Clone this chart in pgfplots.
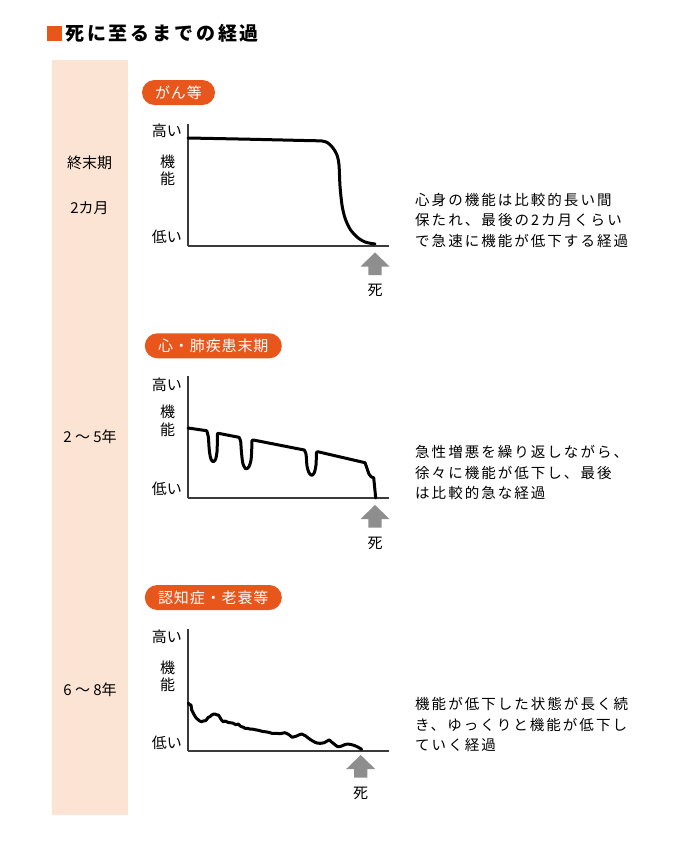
\documentclass[border=0pt]{standalone}
\usepackage{pgfplots}
\pgfplotsset{compat=1.18}
\usepackage{fontspec}
\setmainfont{Noto Sans CJK JP}
\newfontfamily\jpsp[LetterSpace=14]{Noto Sans CJK JP}
\newfontfamily\jppill[LetterSpace=6]{Noto Sans CJK JP}
\newfontfamily\jptitle[LetterSpace=15]{Noto Sans CJK JP}

\definecolor{accent}{HTML}{E8561C}
\definecolor{band}{HTML}{FCE4D4}
\definecolor{arrowgray}{HTML}{8E8E8E}
\definecolor{axisgray}{HTML}{3A3A3A}

\newcommand\lab{\fontsize{15}{18}\selectfont}
\newcommand\desc{\jpsp\fontsize{14.5}{18}\selectfont}

\pgfplotsset{
  lifeaxis/.style={scale only axis, width=201pt, height=122pt,
    xmin=0, xmax=201, ymin=0, ymax=122,
    axis x line=bottom, axis y line=left,
    axis line style={-, axisgray, line width=1.1pt},
    xtick=\empty, ytick=\empty, clip=false, anchor=south west},
  dataline/.style={black, line width=3pt, line join=round, line cap=round, mark=none},
}

% arrow pointing up to the moment of death, #1 = x, #2 = top y
\newcommand\deatharrow[2]{%
  \fill[arrowgray] (axis cs:#1,#2) -- (axis cs:#1+14.5,#2-14) -- (axis cs:#1+6.7,#2-14)
    -- (axis cs:#1+6.7,#2-22.5) -- (axis cs:#1-6.7,#2-22.5) -- (axis cs:#1-6.7,#2-14)
    -- (axis cs:#1-14.5,#2-14) -- cycle;
  \node at (axis cs:#1,#2-38) {\lab 死};
}

\begin{document}
\begin{tikzpicture}[x=1pt, y=1pt]
\useasboundingbox (0,0) rectangle (684,-843);

% title
\fill[accent] (47,-26.5) rectangle (61.5,-41);
\node[anchor=west, inner sep=0pt] at (65,-33.5) {\jptitle\fontsize{19}{22}\selectfont\bfseries 死に至るまでの経過};

% left band
\fill[band] (52,-60) rectangle (127.5,-815);
\node at (89.5,-163) {\lab 終末期};
\node at (89.5,-208) {\lab 2カ月};
\node at (90,-437) {\lab 2 〜 5年};
\node at (90,-690) {\lab 6 〜 8年};

% badges
\node[fill=accent, rounded corners=12.5pt, minimum height=25pt, minimum width=73pt, inner sep=0pt, text=white]
  at (178.5,-92.5) {\jppill\fontsize{15}{18}\selectfont がん等};
\node[fill=accent, rounded corners=12.5pt, minimum height=25pt, minimum width=137pt, inner sep=0pt, text=white]
  at (213.3,-345.8) {\jppill\fontsize{15}{18}\selectfont 心・肺疾患末期};
\node[fill=accent, rounded corners=12.5pt, minimum height=25pt, minimum width=137pt, inner sep=0pt, text=white]
  at (213.3,-597.5) {\jppill\fontsize{15}{18}\selectfont 認知症・老衰等};

% y labels
\foreach \hi/\ki/\no/\lo in {130.5/161.5/178.5/237, 384.5/411.5/430/488.5, 636.5/668/685/743} {
  \node[anchor=east, inner sep=0pt] at (182,-\hi) {\lab 高い};
  \node at (167.5,-\ki) {\lab 機};
  \node at (167.5,-\no) {\lab 能};
  \node[anchor=east, inner sep=0pt] at (182,-\lo) {\lab 低い};
}

% descriptions
\node[anchor=west, inner sep=0pt] at (415,-200) {\desc 心身の機能は比較的長い間};
\node[anchor=west, inner sep=0pt] at (415,-220.5) {\desc 保たれ、最後の2カ月くらい};
\node[anchor=west, inner sep=0pt] at (415,-241) {\desc で急速に機能が低下する経過};
\node[anchor=west, inner sep=0pt] at (415,-452) {\desc 急性増悪を繰り返しながら、};
\node[anchor=west, inner sep=0pt] at (415,-472.5) {\desc 徐々に機能が低下し、最後};
\node[anchor=west, inner sep=0pt] at (415,-493) {\desc は比較的急な経過};
\node[anchor=west, inner sep=0pt] at (415,-704) {\desc 機能が低下した状態が長く続};
\node[anchor=west, inner sep=0pt] at (415,-724.5) {\desc き、ゆっくりと機能が低下し};
\node[anchor=west, inner sep=0pt] at (415,-745) {\desc ていく経過};

% chart 1: cancer
\begin{axis}[lifeaxis, at={(188,-246)}]
\addplot[dataline, smooth, tension=0.5] coordinates {
  (0,108) (60,106.8) (120,105.4) (134,105) (140,103) (145,98) (149,91)
  (151,81) (152,60) (154,41) (157,28) (162,17) (169,9) (177,4) (187,2)};
\deatharrow{187}{-6.5}
\end{axis}

% chart 2: heart / lung disease
\begin{axis}[lifeaxis, at={(188,-498)}]
\addplot[dataline] coordinates {(0,70) (18.7,67.3)};
\addplot[dataline, smooth] coordinates {
  (18.7,67.3) (20.3,61.3) (21,51.3) (21.7,44.7) (23,38.7) (25.3,36.3)
  (27.7,39) (29,46.3) (29.3,54.7) (29.3,64)};
\addplot[dataline] coordinates {(29.3,64) (30.3,64.7) (51,60.7)};
\addplot[dataline, smooth] coordinates {
  (51,60.7) (52.6,57) (53.2,49) (53.9,41.3) (55,34) (57.7,29.2)
  (61,31.3) (63,38) (63.7,48) (64,57.3)};
\addplot[dataline] coordinates {(64,57.3) (65.3,58) (116.3,48)};
\addplot[dataline, smooth] coordinates {
  (116.3,48) (117.9,44.5) (118.4,39.7) (119.1,31.3) (121,25.3) (123.7,22.7)
  (126.3,25.3) (128,33) (128.3,41.3) (128.3,45.3)};
\addplot[dataline] coordinates {(128.3,45.3) (129.7,46.3) (177,35.3)};
\addplot[dataline, smooth] coordinates {(177,35.3) (179,29.7) (181,24) (183,21.3) (185.7,20.3)};
\addplot[dataline] coordinates {(185.7,20.3) (187.7,0)};
\deatharrow{187}{-7}
\end{axis}

% chart 3: dementia / frailty
\begin{axis}[lifeaxis, at={(188,-751)}]
\addplot[dataline, smooth, tension=0.45] coordinates {
  (0.3,47.7) (1.6,46.4) (3,46) (3.7,41) (5,38.4) (6.3,36) (8,33.2) (9.7,31.7)
  (11.7,30) (13.7,29.3) (15.8,30.2) (17.7,30.3) (19,32) (20.3,33.7) (22,34.4)
  (23.7,36) (25.4,36.9) (27,37) (28.7,36.1) (30.3,36) (31.6,34.2) (33,31.7)
  (35.3,29.3) (37,29.9) (38.7,29.3) (40.4,28.4) (42,28.3) (43.7,28.1)
  (45.3,27.7) (47.7,26.3) (50.3,27) (52,25.2) (53.7,24.3) (55.3,23.8)
  (57,22.7) (59.5,22.6) (62,22) (64.5,21.9) (67,21.3) (69.5,20.9) (72,20.3)
  (74.5,19.6) (77,19.3) (79.5,18.9) (82,18.3) (84.5,17.5) (87,17.7)
  (89.5,17.6) (92,17.3) (94.5,17.8) (97,18.3) (99,17.4) (101,16.3)
  (104.3,13.7) (106.5,14.4) (108.7,15) (111.2,16.2) (113.7,17) (115.7,16.1)
  (117.7,15) (122,11.7) (127,8.7) (129.5,7.9) (132,7.7) (136.3,8.3)
  (141,11) (143.2,9.3) (145.3,7.7) (149.7,4.3) (153.7,5) (157.7,6.7)
  (162,6.7) (167,5.3) (170.3,3.7) (173.7,1.7)};
\deatharrow{172.7}{-4}
\end{axis}

\end{tikzpicture}
\end{document}
